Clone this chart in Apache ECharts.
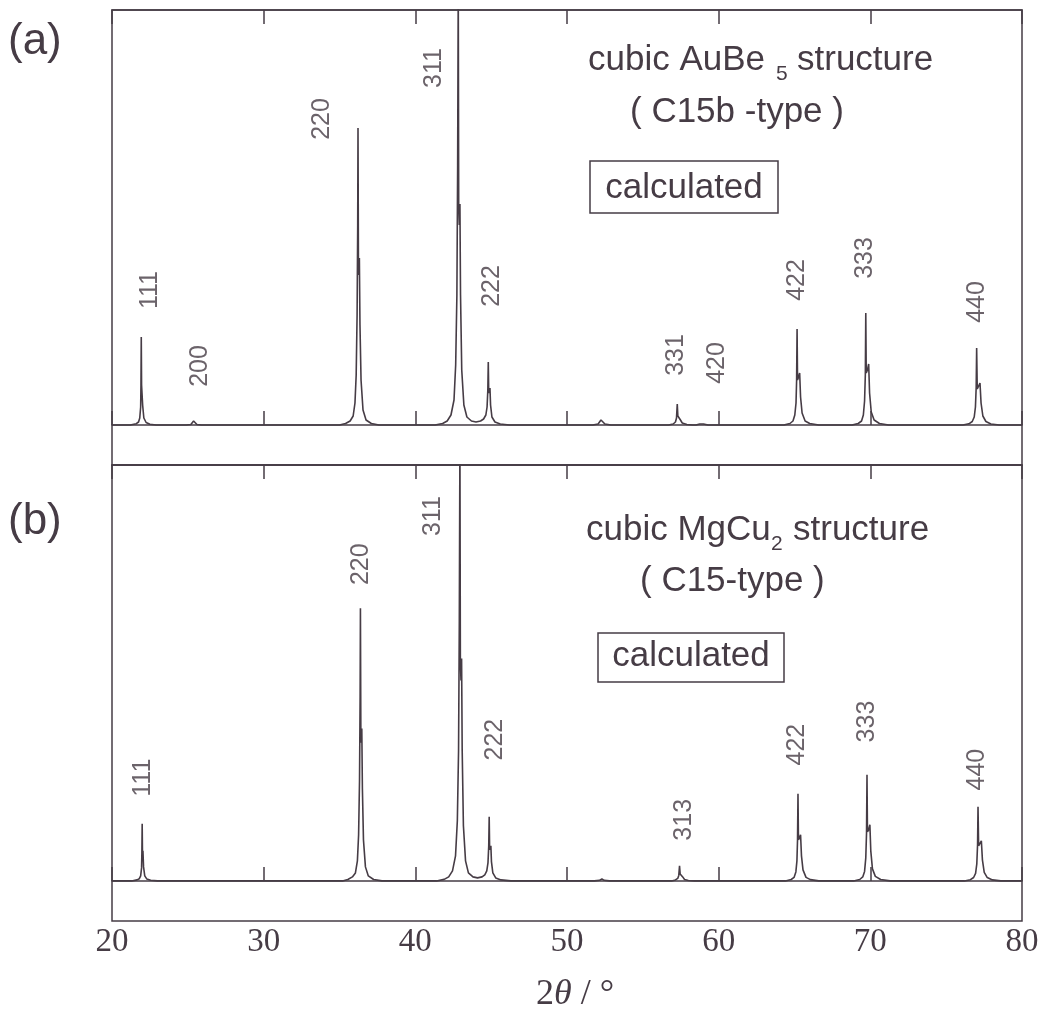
<!DOCTYPE html>
<html>
<head>
<meta charset="utf-8">
<script src="https://cdn.jsdelivr.net/npm/echarts@6.0.0/dist/echarts.min.js"></script>
<style>
  html, body { margin: 0; padding: 0; background: #ffffff; }
  #chart { width: 1047px; height: 1021px; }
</style>
</head>
<body>
<div id="chart"></div>
<script>
// Calculated powder patterns, intensity (arb. units) against 2θ (degrees).
// Each reflection is a sharp Kα1 spike with its Kα2 shoulder just to the right.

// (a) cubic AuBe5, C15b-type
const patternA = [
  [20, 0], [21.2, 0],
  // 111
  [21.3, 0.4], [21.6, 1.3], [21.75, 3], [21.83, 7], [21.89, 18], [21.91, 40], [21.93, 88],
  [21.95, 40], [21.98, 42], [22.02, 20], [22.1, 7], [22.25, 2.5], [22.5, 0.8], [22.9, 0],
  // 200
  [24.9, 0], [25.2, 0.5], [25.32, 2], [25.38, 4], [25.44, 2.2], [25.6, 0.5], [25.9, 0],
  // 220
  [35.0, 0], [35.4, 1.5], [35.7, 4], [35.9, 9], [36.02, 22], [36.1, 50], [36.16, 110], [36.2, 200],
  [36.22, 297], [36.25, 150], [36.28, 150], [36.31, 167], [36.35, 100], [36.42, 45], [36.55, 15],
  [36.75, 5], [37.1, 1.5], [37.6, 0],
  // 311
  [41.3, 0], [41.8, 1.5], [42.1, 4], [42.35, 10], [42.55, 25], [42.66, 60], [42.74, 130], [42.79, 260],
  [42.83, 442], [42.86, 220], [42.9, 200], [42.94, 221], [42.98, 130], [43.06, 55], [43.2, 20],
  [43.4, 8], [43.7, 4], [44.0, 3], [44.3, 4],
  // 222
  [44.5, 6], [44.65, 10], [44.73, 18], [44.78, 35], [44.81, 63], [44.84, 32], [44.88, 33], [44.92, 37],
  [44.96, 20], [45.05, 8], [45.25, 3], [45.6, 1], [46.2, 0],
  // weak line near 52°
  [51.7, 0], [52.05, 1], [52.17, 3], [52.24, 5], [52.32, 3], [52.5, 1], [52.9, 0],
  // 331
  [56.7, 0], [57.0, 1], [57.15, 3], [57.22, 7], [57.27, 21], [57.31, 9], [57.37, 10], [57.42, 11],
  [57.48, 5], [57.6, 2], [57.9, 0.5], [58.3, 0],
  // 420
  [58.5, 0], [58.75, 1], [58.88, 3], [59.0, 1], [59.3, 0],
  // 422
  [64.3, 0], [64.7, 1.5], [64.9, 4], [65.02, 10], [65.1, 22], [65.14, 45], [65.17, 96], [65.2, 45],
  [65.27, 48], [65.34, 52], [65.4, 28], [65.5, 12], [65.7, 4], [66.0, 1.5], [66.6, 0],
  // 333
  [68.8, 0], [69.2, 1.5], [69.42, 4], [69.54, 10], [69.62, 24], [69.67, 50], [69.70, 112], [69.73, 52],
  [69.81, 55], [69.89, 61], [69.95, 32], [70.06, 13], [70.25, 5], [70.6, 1.5], [71.2, 0],
  // 440
  [76.1, 0], [76.5, 1.2], [76.72, 3.5], [76.85, 8], [76.93, 18], [76.98, 38], [77.01, 77], [77.05, 36],
  [77.14, 38], [77.23, 42], [77.3, 22], [77.42, 9], [77.62, 3.5], [77.95, 1], [78.5, 0], [80, 0]
];

// (b) cubic MgCu2, C15-type
const patternB = [
  [20, 0], [21.3, 0],
  // 111
  [21.4, 0.3], [21.65, 1], [21.8, 2.2], [21.89, 5], [21.95, 13], [21.97, 28], [21.99, 57],
  [22.01, 27], [22.04, 30], [22.08, 14], [22.16, 5], [22.3, 1.8], [22.55, 0.6], [23.0, 0],
  // 220
  [35.2, 0], [35.55, 1.4], [35.85, 4], [36.05, 8], [36.18, 20], [36.26, 46], [36.32, 100], [36.36, 185],
  [36.38, 272], [36.41, 138], [36.44, 138], [36.47, 152], [36.51, 92], [36.58, 41], [36.71, 14],
  [36.9, 5], [37.25, 1.4], [37.8, 0],
  // 311
  [41.4, 0], [41.9, 1.5], [42.2, 4], [42.45, 10], [42.65, 25], [42.77, 60], [42.85, 130], [42.9, 260],
  [42.94, 442], [42.97, 220], [43.01, 200], [43.05, 222], [43.09, 130], [43.17, 55], [43.31, 20],
  [43.5, 8], [43.8, 4], [44.1, 3], [44.4, 4],
  // 222
  [44.58, 6], [44.71, 10], [44.79, 18], [44.84, 35], [44.87, 64], [44.9, 31], [44.94, 32], [44.98, 35],
  [45.02, 19], [45.11, 8], [45.3, 3], [45.65, 1], [46.3, 0],
  // weak line near 52°
  [51.8, 0], [52.15, 0.6], [52.3, 2], [52.45, 0.6], [52.8, 0],
  // 313
  [56.9, 0], [57.15, 1], [57.3, 2.5], [57.37, 5.5], [57.42, 15], [57.46, 7], [57.52, 7.5], [57.57, 8],
  [57.63, 4], [57.75, 1.5], [58.0, 0.4], [58.4, 0],
  // 422
  [64.4, 0], [64.78, 1.4], [64.97, 3.5], [65.09, 9], [65.16, 20], [65.2, 41], [65.23, 87], [65.26, 41],
  [65.33, 43], [65.4, 46], [65.46, 25], [65.56, 11], [65.76, 3.5], [66.05, 1.3], [66.6, 0],
  // 333
  [68.9, 0], [69.3, 1.4], [69.5, 4], [69.62, 9.5], [69.7, 23], [69.75, 48], [69.78, 106], [69.81, 49],
  [69.89, 51], [69.97, 56], [70.03, 30], [70.14, 12], [70.33, 4.5], [70.68, 1.4], [71.3, 0],
  // 440
  [76.2, 0], [76.6, 1.2], [76.81, 3.4], [76.94, 7.5], [77.02, 17], [77.07, 36], [77.10, 74], [77.14, 35],
  [77.23, 36], [77.32, 40], [77.39, 21], [77.51, 8.5], [77.71, 3.3], [78.05, 1], [78.6, 0], [80, 0]
];

// Miller indices and where each index is written, in (2θ, intensity)
const hklA = ['111', '200', '220', '311', '222', '331', '420', '422', '333', '440'];
const hklAnchorA = [
  [22.48, 135], [25.84, 59], [33.83, 306], [41.22, 357], [45.05, 139],
  [57.19, 70], [59.9, 62], [65.18, 145], [69.67, 167], [77.06, 123]
];
const hklB = ['111', '220', '311', '222', '313', '422', '333', '440'];
const hklAnchorB = [
  [22.08, 103], [36.4, 316], [41.16, 364], [45.25, 141],
  [57.72, 61], [65.18, 136], [69.8, 159], [77.06, 111]
];

// 2θ axis ticks
const thetaMin = 20, thetaMax = 80, thetaStep = 10;

const INK = '#463c45';
const SANS = '"Liberation Sans", Arial, Helvetica, sans-serif';
const SERIF = '"Liberation Serif", "Times New Roman", serif';

function thetaAxis(gridIndex, position, showLabels) {
  return {
    type: 'value', gridIndex, position,
    min: thetaMin, max: thetaMax, interval: thetaStep,
    axisLine: { show: true, lineStyle: { color: INK, width: 1.5 } },
    axisTick: { show: true, inside: true, length: 14, lineStyle: { color: INK, width: 1.5 } },
    axisLabel: {
      show: showLabels, color: INK, fontFamily: SERIF, fontSize: 33, margin: 5
    },
    splitLine: { show: false }
  };
}

function intensityAxis(gridIndex) {
  return { type: 'value', gridIndex, min: -40, max: 415, show: false, splitLine: { show: false } };
}

function hklSeries(names, anchors, axisIndex) {
  return {
    type: 'scatter', xAxisIndex: axisIndex.x, yAxisIndex: axisIndex.y,
    symbolSize: 0, silent: true, clip: false,
    data: anchors.map((p, i) => ({ value: p, name: names[i] })),
    label: {
      show: true, position: 'inside', rotate: 90, formatter: '{b}',
      color: INK, fontFamily: SANS, fontSize: 25
    }
  };
}

function traceSeries(data, axisIndex) {
  return {
    type: 'line', xAxisIndex: axisIndex.x, yAxisIndex: axisIndex.y,
    data, symbol: 'none', smooth: false, clip: true, silent: true,
    lineStyle: { color: INK, width: 1.6 }
  };
}

function text(str, x, y, size, align) {
  return {
    type: 'text', silent: true,
    style: {
      text: str, x, y, fill: INK,
      font: size + 'px ' + SANS, verticalAlign: 'middle', align: align || 'left'
    }
  };
}

const chart = echarts.init(document.getElementById('chart'), null, { renderer: 'canvas' });

chart.setOption({
  backgroundColor: '#ffffff',
  animation: false,
  grid: [
    { left: 112, right: 25, top: 10, height: 455, show: true, borderColor: INK, borderWidth: 1.5, backgroundColor: 'transparent' },
    { left: 112, right: 25, top: 465, height: 456, show: true, borderColor: INK, borderWidth: 1.5, backgroundColor: 'transparent' }
  ],
  xAxis: [
    thetaAxis(0, 'bottom', false),
    thetaAxis(0, 'top', false),
    thetaAxis(1, 'bottom', true),
    thetaAxis(1, 'top', false)
  ],
  yAxis: [intensityAxis(0), intensityAxis(1)],
  series: [
    traceSeries(patternA, { x: 0, y: 0 }),
    traceSeries(patternB, { x: 2, y: 1 }),
    hklSeries(hklA, hklAnchorA, { x: 0, y: 0 }),
    hklSeries(hklB, hklAnchorB, { x: 2, y: 1 })
  ],
  graphic: [
    // panel tags
    text('(a)', 8, 42, 44),
    text('(b)', 8, 522, 44),

    // (a) structure caption
    text('cubic AuBe', 588, 60, 35),
    text('5', 776, 74, 21),
    text('structure', 797, 60, 35),
    text('( C15b -type )', 630, 112, 35),
    { type: 'rect', silent: true, shape: { x: 590, y: 161, width: 188, height: 52 },
      style: { fill: 'none', stroke: INK, lineWidth: 1.5 } },
    text('calculated', 684, 188, 35, 'center'),

    // (b) structure caption
    text('cubic MgCu', 586, 530, 35),
    text('2', 771, 544, 21),
    text('structure', 793, 530, 35),
    text('( C15-type )', 640, 581, 35),
    { type: 'rect', silent: true, shape: { x: 598, y: 633, width: 186, height: 49 },
      style: { fill: 'none', stroke: INK, lineWidth: 1.5 } },
    text('calculated', 691, 656, 35, 'center'),

    // 2θ axis title
    {
      type: 'text', silent: true,
      style: {
        text: '{n|2}{i|θ}{n| / °}', x: 575, y: 995, align: 'center', verticalAlign: 'middle',
        rich: {
          n: { fontFamily: SERIF, fontSize: 36, fill: INK, color: INK },
          i: { fontFamily: SERIF, fontStyle: 'italic', fontSize: 36, fill: INK, color: INK }
        }
      }
    }
  ]
});
</script>
</body>
</html>
